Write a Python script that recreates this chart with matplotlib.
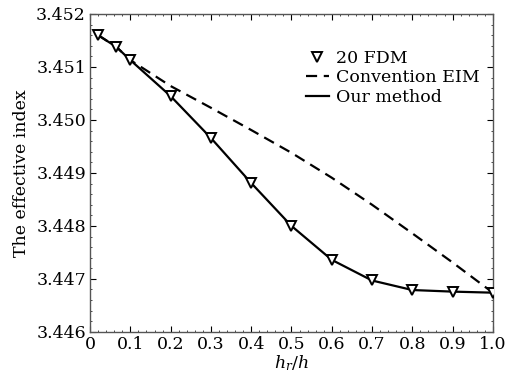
import matplotlib
matplotlib.use("Agg")
import matplotlib.pyplot as plt
from matplotlib.ticker import MultipleLocator

plt.rcParams["font.family"] = "DejaVu Serif"
plt.rcParams["mathtext.fontset"] = "dejavuserif"

# data
hr_fdm = [0.02, 0.065, 0.1, 0.2, 0.3, 0.4, 0.5, 0.6, 0.7, 0.8, 0.9, 1.0]
n_fdm = [3.45160, 3.45138, 3.45113, 3.45045, 3.44966, 3.44881, 3.44800,
         3.44736, 3.44697, 3.44679, 3.44676, 3.44674]

hr_eim = [0.02, 0.065, 0.1, 0.2, 0.3, 0.4, 0.5, 0.6, 0.7, 0.8, 0.9, 1.0]
n_eim = [3.45160, 3.45138, 3.45113, 3.45064, 3.45023, 3.44981, 3.44938,
         3.44891, 3.44840, 3.44786, 3.44731, 3.44674]

hr_ours = hr_fdm
n_ours = n_fdm

xticks = [0, 0.1, 0.2, 0.3, 0.4, 0.5, 0.6, 0.7, 0.8, 0.9, 1.0]
xticklabels = ["0", "0.1", "0.2", "0.3", "0.4", "0.5", "0.6", "0.7", "0.8", "0.9", "1.0"]
yticks = [3.446, 3.447, 3.448, 3.449, 3.450, 3.451, 3.452]

FS = 12.5

fig = plt.figure(figsize=(5.06, 3.78), dpi=100)
ax = fig.add_axes([0.178, 0.122, 0.796, 0.841])

ax.plot(hr_eim, n_eim, color="black", linestyle=(0, (5, 3)), linewidth=1.6,
        label="Convention EIM", zorder=2)
ax.plot(hr_ours, n_ours, color="black", linestyle="-", linewidth=1.6,
        label="Our method", zorder=3)
ax.plot(hr_fdm, n_fdm, linestyle="none", marker="v", markersize=7.5,
        markerfacecolor="white", markeredgecolor="black", markeredgewidth=1.4,
        label="20 FDM", zorder=4)

ax.set_xlim(0, 1.0)
ax.set_ylim(3.446, 3.452)
ax.set_xticks(xticks)
ax.set_xticklabels(xticklabels, fontsize=FS)
ax.set_yticks(yticks)
ax.set_yticklabels([f"{v:.3f}" for v in yticks], fontsize=FS)
ax.xaxis.set_minor_locator(MultipleLocator(0.02))
ax.yaxis.set_minor_locator(MultipleLocator(0.0002))
ax.tick_params(which="major", direction="in", length=4, width=0.8,
               top=True, right=True, pad=3)
ax.tick_params(which="minor", direction="in", length=1.5, width=0.5,
               top=True, right=True)
for s in ax.spines.values():
    s.set_color("#555555")
    s.set_linewidth(1.0)

ax.set_xlabel("$h_r/h$", fontsize=FS, labelpad=0)
ax.set_ylabel("The effective index", fontsize=FS, labelpad=4)

handles, labels = ax.get_legend_handles_labels()
order = [2, 0, 1]
ax.legend([handles[i] for i in order], [labels[i] for i in order],
          loc="upper left", bbox_to_anchor=(0.515, 0.915), frameon=False,
          fontsize=FS, handlelength=1.3, handletextpad=0.4,
          labelspacing=0.15, borderpad=0)

fig.savefig("out.png", dpi=100)
